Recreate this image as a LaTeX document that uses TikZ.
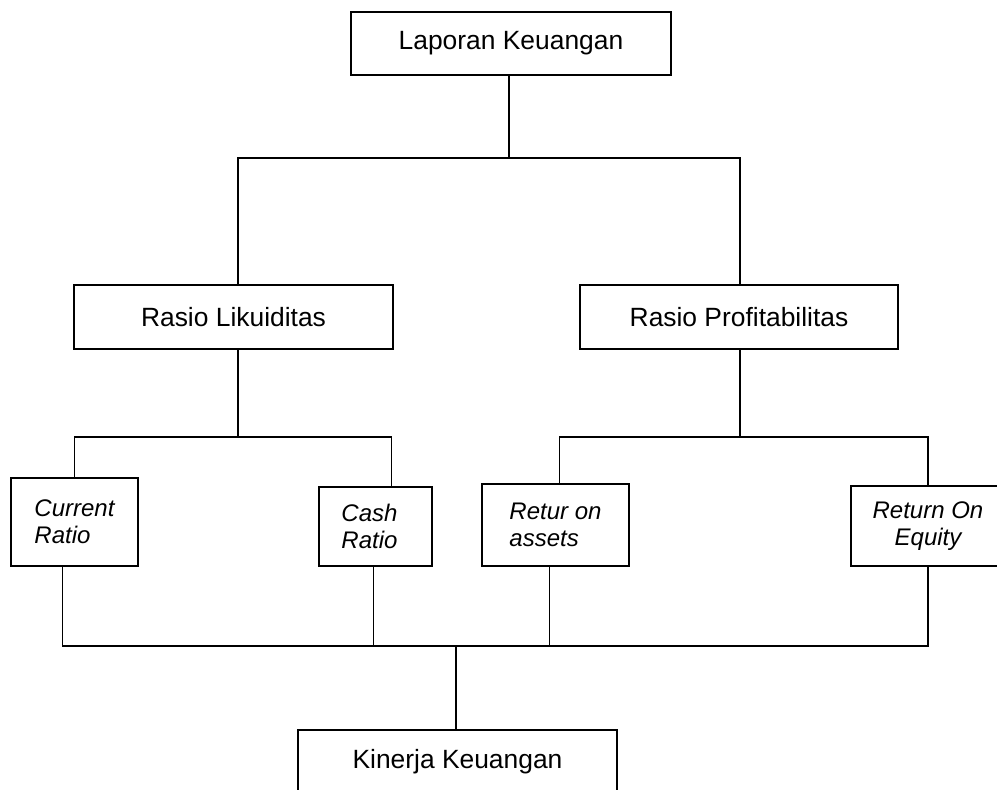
\documentclass[tikz,border=0pt]{standalone}
\usepackage{fontspec}
\setmainfont{Liberation Sans}
\begin{document}
\begin{tikzpicture}[x=0.5pt,y=-0.5pt,
  kotak/.style={draw,line width=1pt,inner sep=0pt,font=\fontsize{13.2}{16}\selectfont},
  rasio/.style={draw,line width=1pt,inner sep=0pt,align=left,font=\fontsize{12}{13.5}\selectfont\itshape},
  garis/.style={line width=0.6pt}]
  \useasboundingbox (0,0) rectangle (997,789);
  \clip (0,0) rectangle (997,789);

  \node[kotak,minimum width=160pt,minimum height=31.5pt] (lapor) at (511,43.5) {Laporan Keuangan};
  \node[kotak,minimum width=159.5pt,minimum height=32pt] (likuid) at (233.5,317) {Rasio Likuiditas};
  \node[kotak,minimum width=159pt,minimum height=32pt] (profit) at (739,317) {Rasio Profitabilitas};

  \node[rasio,minimum width=63.5pt,minimum height=44pt] (cr) at (74.5,522) {Current\\Ratio};
  \node[rasio,minimum width=56.5pt,minimum height=39.5pt] (cashr) at (375.5,526.5) {\hspace*{-6pt}Cash\\\hspace*{-6pt}Ratio};
  \node[rasio,minimum width=73.5pt,minimum height=41pt] (roa) at (555.5,525) {Retur on\\assets};
  \node[rasio,align=center,minimum width=77pt,minimum height=40pt] (roe) at (928,526) {Return On\\Equity};

  \node[kotak,minimum width=159.5pt,minimum height=31.5pt] (kinerja) at (457.5,761.5) {Kinerja Keuangan};

  \coordinate (atas) at (509,158);
  \coordinate (kiri) at (238,437);
  \coordinate (kanan) at (740,437);
  \coordinate (bawah) at (456,646);

  \draw[garis] (lapor.south -| atas) -- (atas);
  \draw[garis] (kiri |- likuid.north) |- (atas) -| (kanan |- profit.north);

  \draw[garis] (likuid.south -| kiri) -- (kiri);
  \draw[garis] (cr.north) |- (kiri) -| ([xshift=8pt]cashr.north);
  \draw[garis] (profit.south -| kanan) -- (kanan);
  \draw[garis] ([xshift=2pt]roa.north) |- (kanan) -| (roe.north);

  \draw[garis] ([xshift=-6pt]cr.south) |- (bawah) -| (roe.south);
  \draw[garis] ([xshift=-1pt]cashr.south) |- (bawah);
  \draw[garis] ([xshift=-3pt]roa.south) |- (bawah);
  \draw[garis] (bawah) -- (bawah |- kinerja.north);
\end{tikzpicture}
\end{document}
